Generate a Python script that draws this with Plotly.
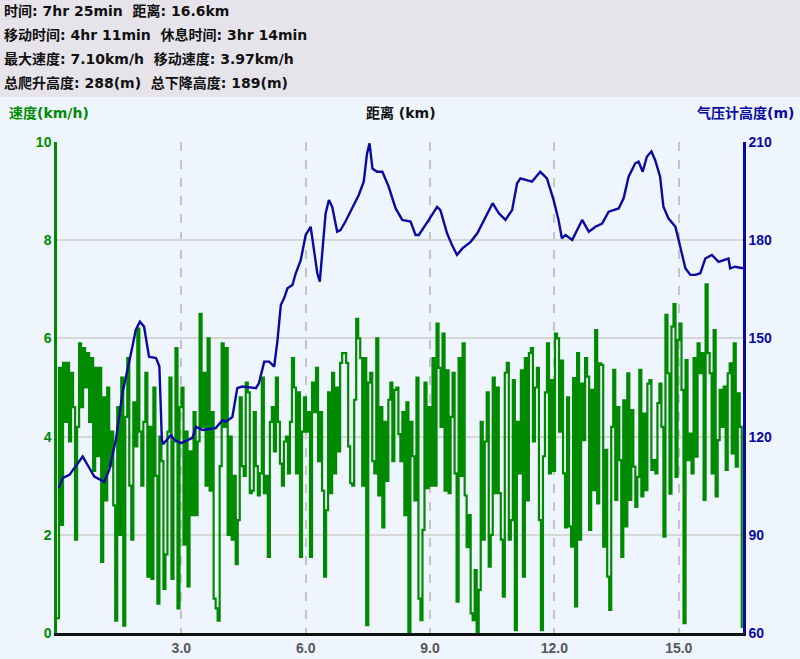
import numpy as np
import plotly.graph_objects as go

# ---------------- data ----------------
header_lines = [
    "时间: 7hr 25min  距离: 16.6km",
    "移动时间: 4hr 11min  休息时间: 3hr 14min",
    "最大速度: 7.10km/h  移动速度: 3.97km/h",
    "总爬升高度: 288(m)  总下降高度: 189(m)",
]
speed_title = "速度(km/h)"
dist_title = "距离 (km)"
elev_title = "气压计高度(m)"

x_tickvals = [3, 6, 9, 12, 15]
x_ticktext = ["3.0", "6.0", "9.0", "12.0", "15.0"]
speed_ticks = [0, 2, 4, 6, 8, 10]
elev_ticks = [60, 90, 120, 150, 180, 210]

total_km = 16.55

# elevation profile (km, m)
elev_km = [0.04, 0.14, 0.30, 0.62, 0.78, 0.90, 1.14, 1.26, 1.42, 1.58, 1.82, 1.90, 2.00, 2.10,
           2.22, 2.39, 2.47, 2.53, 2.56, 2.75, 2.83, 2.99, 3.27, 3.35, 3.51, 3.83, 3.99, 4.07,
           4.23, 4.35, 4.47, 4.80, 4.87, 5.00, 5.12, 5.24, 5.32, 5.40, 5.48, 5.56, 5.68, 5.76,
           5.88, 6.00, 6.12, 6.20, 6.28, 6.34, 6.40, 6.48, 6.56, 6.64, 6.76, 6.84, 6.96, 7.12,
           7.28, 7.40, 7.48, 7.54, 7.61, 7.72, 7.85, 8.00, 8.17, 8.33, 8.53, 8.65, 8.73, 8.97,
           9.17, 9.25, 9.41, 9.53, 9.65, 9.78, 9.98, 10.14, 10.26, 10.38, 10.51, 10.66, 10.82,
           10.98, 11.10, 11.18, 11.34, 11.46, 11.66, 11.82, 11.98, 12.10, 12.18, 12.27, 12.43,
           12.55, 12.67, 12.83, 12.99, 13.15, 13.31, 13.55, 13.67, 13.79, 13.95, 14.03, 14.13,
           14.23, 14.34, 14.43, 14.55, 14.63, 14.75, 14.92, 15.04, 15.16, 15.28, 15.40, 15.52,
           15.64, 15.80, 15.96, 16.20, 16.24, 16.36, 16.55]
elev_m = [104.3, 107.4, 108.3, 113.9, 110.4, 107.8, 106.2, 109.8, 119.0, 133.3, 147.5, 152.6,
          155.1, 153.6, 144.4, 144.0, 141.4, 119.0, 117.7, 120.5, 119.0, 118.0, 119.6, 123.0,
          122.0, 122.6, 125.0, 124.5, 126.0, 134.8, 135.3, 134.8, 136.3, 142.9, 142.9, 141.4,
          149.5, 160.2, 162.3, 165.3, 166.3, 169.9, 173.9, 181.6, 184.1, 177.0, 169.9, 167.3,
          176.0, 188.2, 192.3, 190.2, 182.6, 183.1, 185.7, 189.7, 193.8, 197.9, 206.5, 209.6,
          201.9, 200.9, 200.9, 196.4, 189.7, 186.2, 185.7, 181.6, 181.6, 186.2, 190.2, 189.2,
          182.1, 178.5, 175.5, 177.5, 179.5, 182.1, 185.1, 188.2, 191.3, 188.2, 186.2, 189.2,
          197.4, 198.9, 198.4, 197.9, 200.9, 198.9, 192.3, 186.2, 180.6, 181.6, 180.1, 183.1,
          186.2, 182.6, 184.1, 185.1, 188.7, 189.7, 192.8, 199.4, 203.5, 204.0, 200.9, 205.5,
          207.1, 204.5, 199.4, 190.2, 186.7, 184.1, 178.0, 171.4, 169.4, 169.4, 169.9, 174.4,
          175.5, 173.4, 174.4, 171.4, 171.9, 171.4]

# speed samples (km/h), read left to right, evenly spaced along the distance axis
speed_kmh = [
    0.3, 5.4, 2.2, 5.5, 4.3, 5.5, 3.9, 5.3, 4.6, 1.9,
    4.2, 5.9, 4.6, 5.8, 5.0, 5.7, 4.3, 5.6, 3.3, 5.4,
    3.6, 5.4, 1.45, 4.8, 2.7, 5.0, 3.4, 4.1, 2.6, 0.25,
    4.6, 2.0, 5.2, 0.15, 4.4, 5.6, 3.0, 1.9, 4.7, 3.8,
    6.2, 4.1, 3.0, 4.3, 5.3, 1.15, 4.2, 1.1, 5.0, 3.2,
    0.6, 4.0, 3.5, 0.9, 1.6, 4.1, 5.2, 1.1, 3.9, 5.8,
    0.5, 4.6, 5.0, 1.8, 4.1, 0.95, 3.7, 2.4, 4.5, 2.4,
    3.9, 6.5, 4.2, 5.3, 3.0, 6.0, 2.9, 4.5, 0.7, 0.5,
    0.25, 3.4, 5.9, 4.2, 5.8, 2.0, 4.0, 1.9, 3.2, 1.4,
    2.3, 4.8, 3.4, 3.2, 5.1, 4.9, 2.85, 2.9, 4.5, 3.4,
    2.8, 3.25, 5.2, 2.85, 3.2, 1.55, 4.3, 4.6, 3.7, 5.2,
    4.3, 3.45, 3.0, 3.9, 4.0, 3.25, 4.3, 5.6, 5.0, 3.25,
    4.9, 1.55, 4.1, 4.8, 4.1, 4.5, 1.55, 5.1, 4.5, 5.4,
    3.5, 4.5, 2.9, 1.15, 2.5, 4.9, 2.85, 5.3, 3.25, 5.0,
    3.7, 5.5, 5.7, 5.7, 5.5, 3.8, 3.05, 3.0, 4.75, 6.4,
    6.0, 5.6, 3.0, 5.6, 0.16, 5.1, 5.3, 3.5, 3.25, 6.0,
    2.8, 4.6, 2.15, 4.3, 3.1, 4.75, 5.1, 3.5, 4.95, 5.0,
    4.05,
    3.5, 4.5, 2.4, 4.7, 0.0, 4.3, 3.6, 2.7, 5.2, 0.7,
    0.26, 2.1, 5.1, 2.95, 4.6, 3.0, 5.6, 3.0, 6.3, 5.4,
    4.2, 6.1, 2.9, 5.35, 2.85, 4.4, 5.3, 3.25, 0.64, 5.6,
    3.2, 5.9, 2.8, 1.75, 2.4, 0.4, 0.26, 1.28, 0.0, 0.88,
    4.3, 1.9, 3.9, 4.9, 1.35, 2.0, 5.2, 2.85, 5.0, 2.85,
    1.9, 0.74, 5.3, 5.5, 1.9, 2.3, 5.15, 0.06, 4.3, 3.25,
    5.35, 1.15, 5.6, 2.7, 5.7, 5.8, 3.9, 5.0, 5.4, 2.3,
    0.06, 3.6, 4.9, 5.9, 3.25, 5.15, 3.3, 6.1, 6.0, 4.1,
    5.55, 3.25, 2.15, 4.8,
    2.17, 1.76, 5.19, 0.54, 5.7, 1.9, 5.08, 3.93, 5.6, 5.22,
    2.1, 4.95, 2.91, 6.17, 2.64, 5.49, 5.46, 1.76, 3.73, 1.15,
    0.47, 4.2, 5.36, 2.71, 4.6, 3.52, 1.55, 4.74, 2.17, 5.29,
    2.71, 4.54, 3.39, 2.57, 3.18, 5.36, 2.78, 4.47, 2.91, 5.08,
    5.15, 3.32, 3.52, 3.25, 4.68, 5.08, 4.2, 1.96, 6.48, 5.29,
    2.84, 6.24, 6.7, 3.18, 5.97, 6.3, 4.95, 0.2, 5.56, 3.52,
    4.06, 3.25, 5.6, 3.59, 5.9, 5.29, 5.7, 2.71, 7.1, 5.7,
    5.29, 3.25, 6.17, 2.78, 3.93, 4.95, 4.2, 5.02, 3.32, 5.29,
    5.49, 3.66, 5.9, 3.39, 4.88, 4.2, 0.1,
]
speed_km = np.linspace(0.0, total_km - 0.03, len(speed_kmh))

# ---------------- style ----------------
GREEN = "#008a00"
NAVY = "#0a0aa0"
PLOT_BG = "#eef5fe"
HEAD_BG = "#e6e4ea"
FONT = "DejaVu Sans, Noto Sans CJK SC"
TFONT = "Liberation Sans, Noto Sans CJK SC"

W, H = 800, 659
ML, MR, MT, MB = 57, 57, 142, 26
PW, PH = W - ML - MR, H - MT - MB


def px_x(px):
    return (px - ML) / PW


def px_y(py):
    return (H - MB - py) / PH


fig = go.Figure()
fig.add_trace(go.Scatter(x=speed_km, y=speed_kmh, mode="lines", line_shape="hv",
                         line=dict(color=GREEN, width=2.2), yaxis="y", hoverinfo="skip",
                         showlegend=False))
fig.add_trace(go.Scatter(x=elev_km, y=elev_m, mode="lines",
                         line=dict(color=NAVY, width=2.4), yaxis="y2", hoverinfo="skip",
                         showlegend=False))

shapes = [dict(type="rect", xref="paper", yref="paper", x0=px_x(-5), x1=px_x(W + 5),
               y0=px_y(97), y1=px_y(-5), fillcolor=HEAD_BG, line=dict(width=0), layer="below")]

annotations = []
for i, t in enumerate(header_lines):
    annotations.append(dict(text=t, xref="paper", yref="paper", x=px_x(2), y=px_y(11 + 24 * i),
                            xanchor="left", yanchor="middle", showarrow=False,
                            font=dict(family=FONT, size=14, color="#111", weight="bold")))
annotations.append(dict(text=speed_title, xref="paper", yref="paper", x=px_x(7), y=px_y(113),
                        xanchor="left", yanchor="middle", showarrow=False,
                        font=dict(family=FONT, size=14, color=GREEN, weight="bold")))
annotations.append(dict(text=dist_title, xref="paper", yref="paper", x=px_x(401), y=px_y(113),
                        xanchor="center", yanchor="middle", showarrow=False,
                        font=dict(family=FONT, size=14, color="#111", weight="bold")))
annotations.append(dict(text=elev_title, xref="paper", yref="paper", x=px_x(796), y=px_y(113),
                        xanchor="right", yanchor="middle", showarrow=False,
                        font=dict(family=FONT, size=14, color=NAVY, weight="bold")))

fig.update_layout(
    width=W, height=H,
    margin=dict(l=ML, r=MR, t=MT, b=MB, pad=0),
    paper_bgcolor=PLOT_BG, plot_bgcolor=PLOT_BG,
    showlegend=False,
    shapes=shapes, annotations=annotations,
    xaxis=dict(range=[0, total_km], tickvals=x_tickvals, ticktext=x_ticktext,
               showgrid=True, gridcolor="#c4c4c4", gridwidth=1.5, griddash="dash",
               showline=True, linecolor="#111", linewidth=3, zeroline=False, ticks="",
               tickfont=dict(family=TFONT, size=14, color="#555", weight="bold"),
               automargin=False, fixedrange=True),
    yaxis=dict(range=[0, 10], tickvals=speed_ticks, showgrid=True, gridcolor="#d6d6d6",
               gridwidth=1.5, showline=True, linecolor=GREEN, linewidth=2.5, zeroline=False,
               ticks="", tickfont=dict(family=TFONT, size=14, color=GREEN, weight="bold"),
               automargin=False, fixedrange=True),
    yaxis2=dict(range=[60, 210], tickvals=elev_ticks, overlaying="y", side="right",
                showgrid=False, showline=True, linecolor=NAVY, linewidth=2.5, zeroline=False,
                ticks="", tickfont=dict(family=TFONT, size=14, color=NAVY, weight="bold"),
                automargin=False, fixedrange=True),
)

fig.write_html("out.html", config={"displayModeBar": False},
               post_script="document.body.style.margin='0';")
